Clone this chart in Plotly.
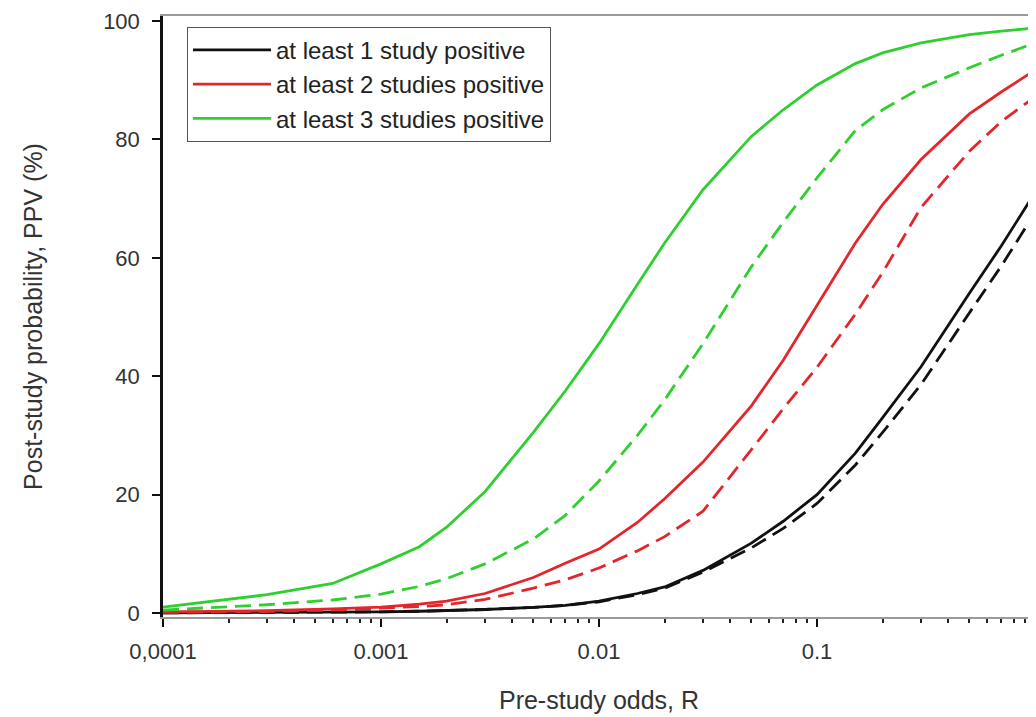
import plotly.graph_objects as go

# Pre-study odds R (x values)
R = [0.0001, 0.0002, 0.0003, 0.0006, 0.001, 0.0015, 0.002, 0.003, 0.005, 0.007,
     0.01, 0.015, 0.02, 0.03, 0.05, 0.07, 0.1, 0.15, 0.2, 0.3, 0.5, 0.7, 1]

# PPV (%)
black_solid = [0.02, 0.04, 0.06, 0.12, 0.2, 0.3, 0.4, 0.6, 0.95, 1.3,
               2.0, 3.3, 4.4, 7.2, 11.8, 15.5, 20.0, 27.0, 33.0, 41.6, 54.0, 62.0, 71.0]
black_dashed = [0.02, 0.04, 0.06, 0.12, 0.2, 0.3, 0.4, 0.6, 0.95, 1.3,
                1.9, 3.1, 4.2, 6.9, 11.0, 14.3, 18.5, 25.0, 30.5, 38.6, 50.7, 58.6, 67.6]
red_solid = [0.2, 0.3, 0.4, 0.7, 1.0, 1.5, 2.0, 3.3, 6.0, 8.4,
             10.8, 15.3, 19.3, 25.5, 35.0, 42.7, 52.0, 62.5, 69.0, 76.6, 84.3, 88.0, 91.7]
red_dashed = [0.1, 0.15, 0.25, 0.5, 0.8, 1.1, 1.4, 2.3, 4.2, 5.6,
              7.6, 10.5, 12.9, 17.2, 27.6, 34.5, 41.5, 50.5, 57.5, 68.5, 78.0, 83.0, 87.2]
green_solid = [1.0, 2.3, 3.1, 5.0, 8.3, 11.2, 14.5, 20.5, 30.5, 37.5,
               45.5, 55.5, 62.5, 71.5, 80.5, 85.0, 89.2, 92.8, 94.6, 96.3, 97.7, 98.3, 98.8]
green_dashed = [0.5, 1.0, 1.4, 2.2, 3.2, 4.5, 5.8, 8.3, 12.5, 16.5,
                22.3, 30.0, 36.0, 45.5, 58.5, 66.0, 73.5, 81.5, 85.0, 88.7, 92.1, 94.2, 96.3]

series_names = ["at least 1 study positive", "at least 2 studies positive", "at least 3 studies positive"]
series_colors = ["#111111", "#e3262c", "#2ecf2e"]
solid_sets = [black_solid, red_solid, green_solid]
dashed_sets = [black_dashed, red_dashed, green_dashed]

x_tickvals = [0.0001, 0.001, 0.01, 0.1, 1]
x_ticktext = ["0,0001", "0.001", "0.01", "0.1", "1"]
y_tickvals = [0, 20, 40, 60, 80, 100]

FONT = "Liberation Sans, Arial, Helvetica, sans-serif"

fig = go.Figure()
for name, color, ys, yd in zip(series_names, series_colors, solid_sets, dashed_sets):
    fig.add_trace(go.Scatter(x=R, y=yd, mode="lines", name=name, legendgroup=name,
                             showlegend=False,
                             line=dict(color=color, width=2.8, dash="16px,8px")))
    fig.add_trace(go.Scatter(x=R, y=ys, mode="lines", name=name, legendgroup=name,
                             showlegend=True,
                             line=dict(color=color, width=2.8)))

minor_vals = [m * 10.0 ** e for e in range(-4, 0) for m in range(2, 10)]

fig.update_layout(
    width=1036, height=717,
    margin=dict(l=155, r=9, t=8, b=108, autoexpand=False),
    paper_bgcolor="white", plot_bgcolor="white",
    font=dict(family=FONT, color="#2a2a2a"),
    legend=dict(x=0.0275, y=0.982, xanchor="left", yanchor="top",
                bordercolor="#555555", borderwidth=1, bgcolor="white",
                font=dict(size=24, color="#222222"), itemwidth=78,
                tracegroupgap=0, traceorder="normal"),
    xaxis=dict(type="log", range=[-4, 0], tickmode="array",
               tickvals=x_tickvals, ticktext=x_ticktext, automargin=False,
               ticks="outside", ticklen=8, tickwidth=2, tickcolor="#111111",
               minor=dict(tickmode="array", tickvals=minor_vals, ticks="outside",
                          ticklen=4, tickwidth=2, tickcolor="#222222", showgrid=False),
               showline=True, linecolor="#9a9a9a", linewidth=2, mirror=True,
               showgrid=False, zeroline=False,
               tickfont=dict(size=22, color="#333333"), ticklabelstandoff=6,
               title=dict(text="Pre-study odds, R", font=dict(size=25, color="#333333"),
                          standoff=28)),
    yaxis=dict(range=[-0.67, 100.84], tickmode="array", tickvals=y_tickvals,
               automargin=False,
               ticks="outside", ticklen=8, tickwidth=2, tickcolor="#111111",
               showline=True, linecolor="#111111", linewidth=2.5,
               showgrid=False, zeroline=False,
               tickfont=dict(size=22, color="#333333"), ticklabelstandoff=8,
               title=dict(text="Post-study probability, PPV (%)",
                          font=dict(size=25, color="#333333"), standoff=54)),
    shapes=[dict(type="line", xref="paper", yref="paper", x0=1, x1=1, y0=0, y1=1,
                 line=dict(color="#9a9a9a", width=2))],
)

fig.write_html("out.html")
